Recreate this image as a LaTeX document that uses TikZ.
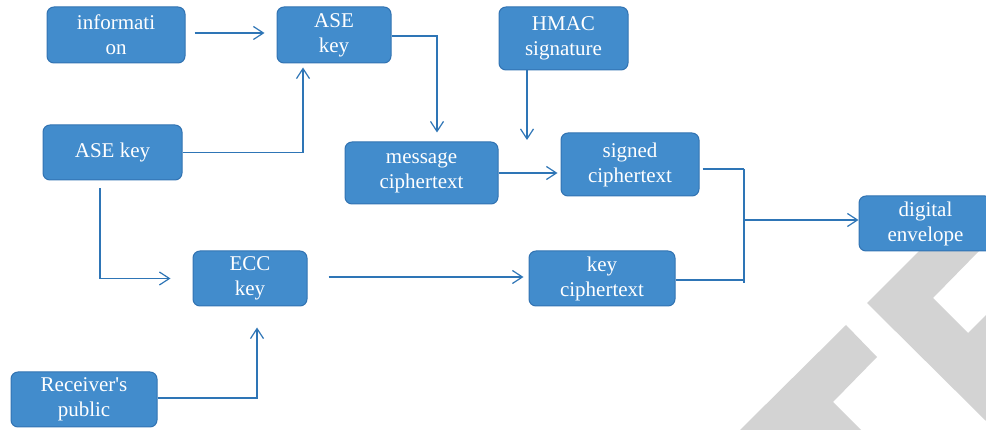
\documentclass[tikz,border=0pt]{standalone}
\usepackage{fontspec}
\setmainfont{Liberation Serif}[Ligatures=TeXOff]
\usetikzlibrary{arrows.meta}
\definecolor{boxfill}{RGB}{66,140,204}
\definecolor{boxline}{RGB}{50,115,178}
\definecolor{conn}{RGB}{46,117,182}
\definecolor{wm}{RGB}{211,211,211}
\tikzset{
  box/.style={draw=boxline, line width=1pt, fill=boxfill, rounded corners=7pt,
    inner sep=0pt, align=center, text=white,
    font=\fontsize{21}{25}\selectfont},
  conline/.style={draw=conn, line width=1.2pt},
  arr/.style={conline, -{Straight Barb[length=10pt,width=13pt,line width=1.2pt]}}
}
\begin{document}
\begin{tikzpicture}[x=1pt,y=-1pt]
\useasboundingbox (0,0) rectangle (986,430);
% watermark
\fill[wm] (740,430) -- (846,325) -- (877,357) -- (833,402) -- (861,430) -- cycle;
\fill[wm] (867,303) -- (920,250) -- (980,250) -- (933,298) -- (968,333) -- (986,315) -- (986,421) -- cycle;
% boxes
\node[box, minimum width=138pt, minimum height=56pt] (info) at (116,35) {informati\\on};
\node[box, minimum width=114pt, minimum height=56pt] (aseT) at (334,35) {ASE\\key};
\node[box, minimum width=139pt, minimum height=55pt] (aseL) at (112.5,152.5) {ASE key};
\node[box, minimum width=153pt, minimum height=62pt] (msg) at (421.5,173) {message\\ciphertext};
\node[box, minimum width=129pt, minimum height=63pt] (hmac) at (563.5,38.5) {HMAC\\signature};
\node[box, minimum width=138pt, minimum height=63pt] (signed) at (630,164.5) {signed\\ciphertext};
\node[box, minimum width=133pt, minimum height=55pt] (env) at (925.5,223.5) {digital\\envelope};
\node[box, minimum width=146pt, minimum height=55pt] (keyc) at (602,278.5) {key\\ciphertext};
\node[box, minimum width=114pt, minimum height=55pt] (ecc) at (250,278.5) {ECC\\key};
\node[box, minimum width=146pt, minimum height=55pt] (recv) at (84,399.5) {Receiver's\\public};
% junction coordinates
\coordinate (jt) at (744,169);
\coordinate (jb) at (744,283);
\coordinate (jm) at (744,220);
\coordinate (jk) at (744,280);
\coordinate (hmactip) at (527,140);
% connectors
\draw[arr] ([xshift=9pt,yshift=2pt]info.east) -- ([xshift=-12pt,yshift=2pt]aseT.west);
\draw[arr] (aseL.east) -| ([xshift=-31pt,yshift=-4pt]aseT.south);
\draw[arr] ([yshift=-1pt]aseT.east) -| ([xshift=15.5pt,yshift=9pt]msg.north);
\draw[arr] ([xshift=-36.5pt]hmac.south) -- (hmactip);
\draw[arr] (msg.east) -- ([xshift=-3pt]msg.east -| signed.west);
\draw[conline] ([xshift=3pt]signed.east |- jt) -- (jt);
\draw[conline] (jt) -- (jb);
\draw[arr] (jm) -- (jm -| env.west);
\draw[conline] (keyc.east |- jk) -- (jk);
\draw[arr] ([xshift=-12.5pt,yshift=-8pt]aseL.south) |- ([xshift=-22pt]ecc.west);
\draw[arr] ([xshift=21pt,yshift=1.5pt]ecc.east) -- ([xshift=-5pt,yshift=1.5pt]keyc.west);
\draw[arr] ([yshift=1.5pt]recv.east) -| ([xshift=7pt,yshift=-21pt]ecc.south);
\end{tikzpicture}
\end{document}
